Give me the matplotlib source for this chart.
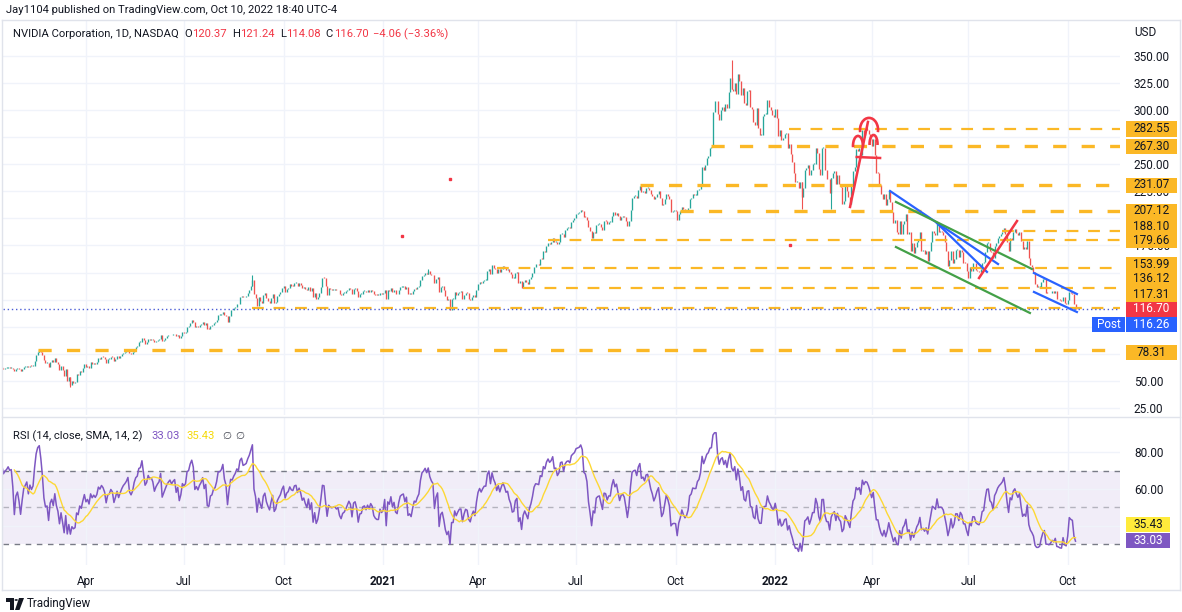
"""
NVIDIA (NVDA) 1D chart with RSI, TradingView look
"""

import numpy as np
import pandas as pd
import matplotlib
matplotlib.use('Agg')
import matplotlib.pyplot as plt
from matplotlib.patches import Arc, Rectangle, Polygon, Circle
from matplotlib.lines import Line2D

plt.rcParams['font.family'] = ['Roboto', 'DejaVu Sans']
plt.rcParams['lines.scale_dashes'] = False

W, H = 1182, 612

# daily closes per month (split adjusted), 2019-12-16 .. 2022-10-10
months = ['2019-12', '2020-01', '2020-02', '2020-03', '2020-04', '2020-05', '2020-06',
          '2020-07', '2020-08', '2020-09', '2020-10', '2020-11', '2020-12',
          '2021-01', '2021-02', '2021-03', '2021-04', '2021-05', '2021-06',
          '2021-07', '2021-08', '2021-09', '2021-10', '2021-11', '2021-12',
          '2022-01', '2022-02', '2022-03', '2022-04', '2022-05', '2022-06',
          '2022-07', '2022-08', '2022-09', '2022-10']
closes_by_month = [
    [56.4, 56.7, 57.5, 58.0, 59.6, 59.7, 59.7, 59.8, 59.0, 58.1, 58.8],
    [59.98, 59.02, 59.26, 59.98, 60.10, 61.10, 61.00, 62.90, 61.90, 61.40, 61.80, 62.00, 62.40, 62.20, 62.30, 61.30, 59.00, 61.00, 61.50, 60.60, 59.10],
    [60.8, 62.6, 63.2, 63.8, 62.5, 64.0, 63.5, 64.1, 68.2, 73.5, 77.0, 78.3, 76.5, 73.7, 68.9, 66.5, 66.8, 62.5, 67.6],
    [68.9, 67.0, 71.2, 67.5, 65.5, 60.5, 64.2, 60.0, 54.5, 61.0, 49.5, 53.7, 46.5, 50.0, 48.5, 49.0, 56.0, 55.0, 59.5, 58.3, 62.2, 65.9],
    [62.5, 63.8, 61.7, 67.2, 65.5, 66.9, 66.0, 67.4, 71.3, 70.6, 72.5, 71.8, 70.4, 66.8, 70.1, 70.5, 72.5, 71.8, 68.5, 70.5, 72.9],
    [71.0, 72.8, 74.5, 75.8, 76.6, 77.6, 79.2, 75.8, 75.0, 76.3, 79.5, 81.5, 82.2, 85.8, 86.2, 90.0, 87.5, 84.5, 85.6, 88.8],
    [88.0, 88.5, 87.6, 85.5, 87.0, 88.0, 88.8, 92.0, 86.5, 88.0, 89.5, 91.0, 92.0, 92.8, 92.0, 92.9, 93.5, 91.0, 92.5, 89.6, 91.3, 95.0],
    [94.5, 95.3, 100.0, 100.5, 103.7, 105.8, 104.5, 99.5, 100.6, 99.8, 101.5, 102.5, 104.4, 102.0, 103.5, 98.0, 97.8, 101.1, 101.5, 103.5, 104.0, 106.2],
    [110.5, 110.5, 111.4, 114.0, 111.0, 109.7, 104.5, 110.0, 115.2, 115.0, 117.0, 118.5, 121.0, 120.6, 127.0, 128.7, 127.0, 127.5, 128.2, 131.2, 133.7],
    [138.0, 143.5, 130.0, 126.8, 119.0, 127.0, 124.0, 121.5, 129.0, 131.0, 126.5, 124.0, 122.0, 126.5, 130.5, 121.5, 123.0, 128.0, 130.0, 131.8, 135.3],
    [137.5, 132.0, 135.0, 136.0, 139.0, 137.8, 137.5, 140.2, 140.5, 138.0, 140.2, 138.6, 136.0, 136.9, 135.0, 133.6, 136.8, 133.0, 135.6, 127.2, 131.0, 125.4],
    [127.0, 131.0, 136.5, 145.0, 144.8, 137.5, 129.0, 135.5, 134.5, 134.0, 134.3, 134.6, 133.5, 134.0, 130.5, 129.0, 131.0, 131.5, 132.6, 134.0],
    [135.5, 134.5, 130.0, 135.0, 135.5, 133.2, 127.5, 130.4, 130.6, 133.0, 133.3, 132.0, 133.5, 132.3, 134.0, 133.2, 130.3, 129.4, 129.0, 129.0, 131.5, 130.6],
    [131.1, 133.9, 125.9, 133.7, 132.9, 135.8, 132.3, 134.0, 130.4, 129.8, 133.7, 136.4, 137.0, 137.3, 135.0, 136.6, 130.4, 130.9, 129.9],
    [132.6, 135.0, 134.7, 136.3, 137.5, 143.1, 147.0, 148.0, 149.5, 148.5, 151.0, 149.0, 148.0, 147.4, 140.3, 144.5, 146.3, 131.8, 137.0],
    [138.0, 134.0, 128.0, 124.5, 125.8, 115.8, 125.8, 125.8, 132.0, 129.0, 131.0, 132.5, 132.6, 125.3, 129.0, 131.5, 131.0, 126.0, 124.5, 127.5, 129.3, 127.0, 133.5],
    [139.0, 141.5, 140.0, 142.0, 143.5, 143.5, 151.0, 153.5, 149.0, 157.0, 154.5, 153.0, 150.0, 153.0, 150.5, 153.5, 156.0, 154.5, 152.5, 153.0, 150.1],
    [148.5, 145.0, 145.3, 149.5, 150.5, 140.5, 142.0, 135.5, 141.5, 143.5, 141.6, 139.5, 144.0, 146.3, 150.0, 155.4, 157.6, 157.5, 157.3, 162.8],
    [162.5, 169.7, 169.0, 174.6, 177.5, 176.5, 178.0, 181.5, 178.0, 178.5, 176.3, 178.0, 185.5, 186.0, 183.3, 189.0, 191.0, 191.5, 191.0, 197.0, 198.6, 200.0],
    [204.0, 204.8, 205.5, 208.0, 207.0, 201.5, 201.0, 199.0, 192.5, 188.0, 181.6, 187.8, 186.8, 194.1, 195.0, 195.3, 192.4, 189.6, 197.8, 197.6, 195.0],
    [197.0, 197.0, 202.5, 206.0, 203.5, 205.0, 202.0, 199.0, 201.5, 202.0, 201.0, 197.5, 193.0, 197.5, 208.0, 219.0, 220.5, 221.0, 219.0, 226.4, 229.9, 224.0],
    [225.0, 223.5, 228.0, 228.5, 226.0, 223.0, 221.0, 218.0, 220.0, 223.0, 225.0, 219.0, 212.0, 213.5, 218.0, 223.0, 221.0, 218.0, 206.0, 207.0, 207.2],
    [207.0, 199.0, 204.5, 207.0, 211.0, 208.3, 206.5, 207.5, 210.0, 217.5, 218.6, 222.2, 222.0, 222.0, 226.0, 227.3, 231.7, 247.2, 244.5, 249.4, 255.7],
    [258.0, 265.0, 265.8, 298.0, 308.0, 308.0, 296.5, 291.0, 300.2, 303.0, 299.0, 306.0, 301.8, 316.7, 329.8, 319.6, 317.3, 325.0, 315.0, 333.8, 326.8],
    [314.4, 320.0, 306.9, 305.0, 318.0, 319.0, 302.5, 301.0, 289.0, 286.7, 301.5, 283.8, 277.0, 277.0, 294.2, 296.4, 296.4, 309.5, 303.2, 300.0, 295.9, 294.1],
    [301.2, 292.9, 276.0, 281.8, 272.5, 274.0, 278.2, 279.0, 265.3, 268.9, 259.5, 251.9, 241.5, 233.7, 233.9, 227.7, 233.3, 219.4, 228.4, 244.9],
    [246.4, 248.9, 239.9, 244.4, 250.7, 250.7, 265.2, 260.0, 246.0, 240.0, 264.9, 265.1, 245.1, 236.4, 236.0, 223.5, 237.5, 241.6, 243.9],
    [232.0, 240.0, 232.0, 229.0, 213.5, 216.0, 230.0, 225.0, 220.0, 213.3, 229.7, 244.0, 247.7, 264.5, 262.0, 265.2, 258.5, 281.5, 276.9, 282.2, 281.5, 278.0, 272.9],
    [267.1, 273.6, 258.3, 242.1, 242.0, 231.2, 222.5, 217.7, 222.6, 212.6, 217.6, 225.3, 214.9, 205.7, 195.6, 199.0, 187.9, 185.7, 197.8, 185.5],
    [195.3, 197.9, 203.7, 185.7, 187.3, 169.5, 177.1, 167.9, 173.2, 178.2, 181.0, 187.4, 169.8, 171.2, 166.9, 169.8, 161.0, 169.8, 178.5, 188.1, 186.7],
    [184.9, 196.0, 187.2, 187.7, 187.4, 185.0, 178.2, 169.8, 156.3, 161.3, 170.0, 158.8, 162.2, 171.3, 171.3, 164.2, 171.3, 168.6, 159.2, 159.0, 151.6],
    [145.2, 154.8, 151.3, 158.6, 158.4, 152.6, 151.2, 150.6, 153.1, 159.3, 160.1, 169.2, 177.1, 177.5, 169.9, 168.6, 163.6, 174.7, 177.6, 181.6],
    [183.9, 185.4, 187.3, 191.2, 186.0, 177.9, 170.3, 181.6, 180.2, 187.8, 189.9, 186.8, 184.6, 187.5, 179.5, 171.9, 173.4, 171.8, 179.2, 163.1, 157.4, 154.7, 150.9],
    [139.4, 136.5, 136.5, 137.1, 141.0, 143.8, 145.1, 131.3, 131.2, 130.7, 131.4, 132.6, 131.2, 132.6, 125.6, 125.2, 124.3, 124.1, 127.6, 122.2, 121.4],
    [124.7, 132.1, 131.1, 130.6, 120.8, 116.7],
]

# long wicks that stand out: (month, trading day in month, high/low)
wicks = [('2020-02', 11, 79.0), ('2020-03', 12, 44.0), ('2020-09', 1, 147.5),
         ('2021-02', 10, 153.5), ('2021-11', 15, 346.5), ('2022-01', 17, 208.9),
         ('2022-02', 16, 208.9), ('2022-03', 20, 289.5)]

# x axis labels (first trading day of the quarter)
tick_months = ['2020-04', '2020-07', '2020-10', '2021-01', '2021-04', '2021-07',
               '2021-10', '2022-01', '2022-04', '2022-07', '2022-10']
tick_labels = ['Apr', 'Jul', 'Oct', '2021', 'Apr', 'Jul', 'Oct', '2022', 'Apr', 'Jul', 'Oct']

# price scale: gridline values, and those whose label sits under a tag
price_ticks = [25, 50, 75, 100, 125, 150, 175, 200, 225, 250, 275, 300, 325, 350]
covered_ticks = [75, 100, 125, 150, 200, 275]

# legend of the main series
ohlc_legend = [('O', '120.37'), ('H', '121.24'), ('L', '114.08'), ('C', '116.70')]
change_text = '\u22124.06 (\u22123.36%)'

# horizontal levels drawn on the chart: price, first bar, heavy style
level_price = [282.55, 267.30, 231.07, 207.12, 188.10, 179.66, 153.99, 136.12, 117.31, 78.31]
level_start = [525, 475, 429, 455, 662, 370, 337, 354, 180, 42]
level_heavy = [False, True, True, True, False, False, False, False, False, True]

# trend lines: (bar, price) -> (bar, price)
blue_lines = [((589.8, 225.3), (659.2, 157.9)), ((619.9, 195.8), (652.1, 150.6)),
              ((682.3, 149.6), (709.9, 130.2)), ((682.3, 132.1), (709.9, 113.6))]
green_lines = [((593.6, 215.2), (681.0, 153.3)), ((593.6, 173.6), (679.7, 112.7))]
red_lines = [((564.1, 210.6), (575.6, 289.1)), ((647.0, 145.0), (671.4, 197.6)),
             ((568.4, 256.7), (583.4, 255.8))]
# head and shoulders arcs: centre bar, centre price, width (bars), height (price)
arcs = [(569.2, 266.9, 6.4, 18.5), (576.3, 281.7, 11.6, 22.2), (579.2, 268.7, 5.1, 16.6)]
red_dots = [(307, 236.4), (276.1, 183.8), (525.5, 175.5)]

last_price = 116.70

UP, DOWN = '#26a69a', '#ef5350'
ORANGE = '#fbb826'
TXT = '#131722'
PURPLE = '#7e57c2'
RED = '#f23645'
BLUE = '#2962ff'

close = np.array([c for m in closes_by_month for c in m])
n = len(close)
idx = np.arange(n)
starts = np.cumsum([0] + [len(m) for m in closes_by_month])
tick_idx = [starts[months.index(m)] for m in tick_months]

opn = np.r_[close[0], close[:-1]]
lo = np.minimum(opn, close)
hi = np.maximum(np.maximum(opn, close), lo + 0.8)
up = close >= opn

# RSI 14 (Wilder) and its SMA 14
s = pd.Series(close)
d = s.diff()
gain = d.clip(lower=0).ewm(alpha=1 / 14, adjust=False).mean()
loss = (-d.clip(upper=0)).ewm(alpha=1 / 14, adjust=False).mean()
rsi = 100 - 100 / (1 + gain / loss)
rsi[:14] = np.nan
rsi_ma = rsi.rolling(14).mean()


def fbox(l, t, r, b):
    return [l / W, 1 - b / H, (r - l) / W, (b - t) / H]


def ftxt(x, y, txt, **kw):
    kw.setdefault('va', 'center')
    kw.setdefault('color', TXT)
    return fig.text(x / W, 1 - y / H, txt, **kw)


def fit(x, y, txt, width, size, **kw):
    # shrink the font until the text is no wider than in the reference
    t = ftxt(x, y, txt, fontsize=size, **kw)
    r = fig.canvas.get_renderer()
    while t.get_window_extent(r).width > width and size > 5:
        size -= 0.1
        t.set_fontsize(size)
    return size


def tag(y, txt, fc, tc, x0=1126, w=51, h=15):
    fig.add_artist(Rectangle((x0 / W, 1 - (y + h / 2) / H), w / W, h / H,
                             transform=fig.transFigure, fc=fc, ec='none', zorder=5))
    ftxt(x0 + w / 2, y, txt, color=tc, fontsize=8.5, ha='center', zorder=6)


fig = plt.figure(figsize=(W / 100, H / 100), dpi=100)
fig.patch.set_facecolor('white')

ax = fig.add_axes(fbox(3, 20, 1120, 415))
axr = fig.add_axes(fbox(3, 418, 1120, 565), sharex=ax)

xl = (19.7, 737.6)

# --- price panel
ax.set_xlim(*xl)
ax.set_ylim(18.5, 383.2)
ax.set_yticks(price_ticks, ['' if v in covered_ticks else f'{v:.2f}' for v in price_ticks])
ax.yaxis.tick_right()
ax.tick_params(axis='y', length=0, pad=10, labelsize=8.5, labelcolor=TXT)
ax.tick_params(axis='x', length=0, labelbottom=False)
ax.grid(color='#f0f3fa', lw=1)
for sp in ax.spines.values():
    sp.set_visible(False)

for m, k, p in wicks:
    i = starts[months.index(m)] + k
    ax.vlines(i, min(p, lo[i]), max(p, hi[i]), color=UP if up[i] else DOWN, lw=0.8, zorder=3)
ax.vlines(idx[up], lo[up], hi[up], color=UP, lw=0.95, zorder=3)
ax.vlines(idx[~up], lo[~up], hi[~up], color=DOWN, lw=0.95, zorder=3)

for p, st, hv in zip(level_price, level_start, level_heavy):
    if hv:
        ax.hlines(p, st, xl[1], color=ORANGE, lw=2.4, linestyles=[(0, (9.5, 11))], zorder=4)
    else:
        ax.hlines(p, st, xl[1], color=ORANGE, lw=1.6, linestyles=[(0, (8.5, 7))], zorder=4)

ax.axhline(last_price, color='#4a5cd6', lw=1, ls=(0, (1, 2)), zorder=4)

for (a, b) in blue_lines:
    ax.plot([a[0], b[0]], [a[1], b[1]], color=BLUE, lw=1.6, zorder=5)
for (a, b) in green_lines:
    ax.plot([a[0], b[0]], [a[1], b[1]], color='#43a047', lw=1.6, zorder=5)
for (a, b) in red_lines:
    ax.plot([a[0], b[0]], [a[1], b[1]], color=RED, lw=1.8, zorder=5)
for cx, cy, w, h in arcs:
    ax.add_patch(Arc((cx, cy), w, h, theta1=-20, theta2=200, color=RED, lw=1.9, zorder=5))
for bx, py in red_dots:
    ax.plot(bx, py, 's', color=RED, ms=2, zorder=5)

# --- RSI panel
axr.set_xlim(*xl)
axr.set_ylim(18.9, 98.4)
axr.axhspan(30, 70, color=PURPLE, alpha=0.1, lw=0)
axr.axhline(70, color='#787b86', lw=1, ls=(0, (4, 4)))
axr.axhline(50, color='#787b86', lw=1, ls=(0, (4, 4)), alpha=0.5)
axr.axhline(30, color='#787b86', lw=1, ls=(0, (4, 4)))
axr.plot(idx, rsi, color=PURPLE, lw=1.1, zorder=3)
axr.plot(idx, rsi_ma, color='#fdd835', lw=1.0, zorder=3)
axr.set_yticks([40, 60, 80], ['', '60.00', '80.00'])
axr.yaxis.tick_right()
axr.tick_params(axis='y', length=0, pad=10, labelsize=8.5, labelcolor=TXT)
axr.set_xticks(tick_idx, tick_labels)
axr.tick_params(axis='x', length=0, pad=7, labelsize=8.5, labelcolor=TXT)
for lab in axr.get_xticklabels():
    if lab.get_text().isdigit():
        lab.set_fontweight('bold')
axr.grid(color='#f0f3fa', lw=1)
for sp in axr.spines.values():
    sp.set_visible(False)

# --- frame
frame = '#e0e3eb'
for xs, ys in [([2, 1180], [20, 20]), ([2, 1180], [590, 590]), ([2, 2], [20, 590]),
               ([1180, 1180], [20, 590]), ([2, 1180], [417, 417])]:
    fig.add_artist(Line2D([x / W for x in xs], [1 - y / H for y in ys], color=frame, lw=1))

# --- texts
rend = fig.canvas.get_renderer()
fit(6, 10, 'Jay1104 published on TradingView.com, Oct 10, 2022 18:40 UTC-4', 336, 9.5)
fs = fit(13, 34, 'NVIDIA Corporation, 1D, NASDAQ', 167, 9.5)
x = 184
for letter, val in ohlc_legend:
    t = ftxt(x, 34, letter, fontsize=fs)
    x += t.get_window_extent(rend).width + 0.5
    t = ftxt(x, 34, val, fontsize=fs, color=RED)
    x += t.get_window_extent(rend).width + 5
ftxt(x, 34, change_text, fontsize=fs, color=RED)
ftxt(1134, 32, 'USD', fontsize=8.5)

fs = fit(13, 436, 'RSI (14, close, SMA, 14, 2)', 131, 9.5)
ftxt(151, 436, '33.03', fontsize=fs, color=PURPLE)
ftxt(186, 436, '35.43', fontsize=fs, color='#f5d90a')
ftxt(222, 436, '\u2205', fontsize=7.5, color='#434651')
ftxt(235, 436, '\u2205', fontsize=7.5, color='#434651')

# price scale tags
tag(129, '282.55', ORANGE, TXT)
tag(146, '267.30', ORANGE, TXT)
tag(185, '231.07', ORANGE, TXT)
tag(211, '207.12', ORANGE, TXT)
tag(226, '188.10', ORANGE, TXT)
tag(240.5, '179.66', ORANGE, TXT)
tag(264, '153.99', ORANGE, TXT)
tag(279, '136.12', ORANGE, TXT)
tag(294, '117.31', ORANGE, TXT)
tag(309, '116.70', RED, 'white')
tag(324, '116.26', BLUE, 'white')
tag(324, 'Post', BLUE, 'white', x0=1092, w=33)
tag(352, '78.31', ORANGE, TXT)
tag(524, '35.43', '#ffeb3b', TXT, w=44)
tag(540, '33.03', PURPLE, 'white', w=44)

# TradingView logo
logo = [[(6, 598), (14, 598), (14, 610), (10, 610), (10, 602), (6, 602)],
        [(19, 598), (24, 598), (19.5, 610), (15, 610)]]
for pts in logo:
    fig.add_artist(Polygon([(x / W, 1 - y / H) for x, y in pts], closed=True,
                           transform=fig.transFigure, fc=TXT, ec='none'))
fig.add_artist(Circle((16.2 / W, 1 - 600 / H), 1.7 / W, transform=fig.transFigure, fc=TXT, ec='none'))
fit(27, 604, 'TradingView', 65, 10.5)

fig.savefig('out.png', dpi=100)
